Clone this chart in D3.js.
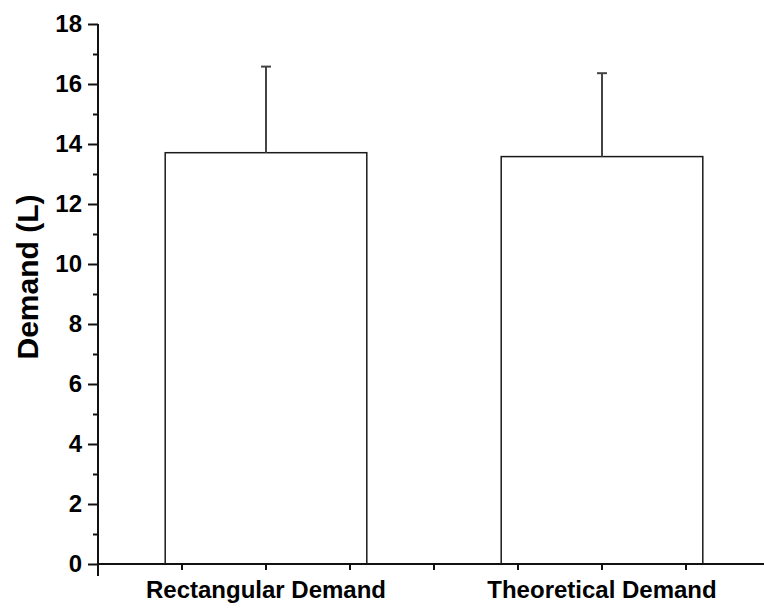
<!DOCTYPE html>
<html>
<head>
<meta charset="utf-8">
<script src="https://cdn.jsdelivr.net/npm/d3@7"></script>
<style>
  html, body { margin: 0; padding: 0; background: #fff; }
  svg { display: block; }
  text { font-family: "Liberation Sans", Arial, sans-serif; font-weight: bold; fill: #000; }
</style>
</head>
<body>
<svg id="chart" width="764" height="610"></svg>
<script>
// Mean demand per method, with the upper standard deviation
const categories = ["Rectangular Demand", "Theoretical Demand"];
const means = [13.71, 13.58];
const errors = [2.87, 2.78];
const yTicks = [0, 2, 4, 6, 8, 10, 12, 14, 16, 18];
const yMinorTicks = [1, 3, 5, 7, 9, 11, 13, 15, 17];
const yTitle = "Demand (L)";

const svg = d3.select("#chart");
const W = 764, H = 610;
const plotLeft = 98, plotRight = 770, plotTop = 24, plotBottom = 564;

const x = d3.scaleBand()
  .domain(categories)
  .range([plotLeft, plotRight])
  .paddingInner(0.4)
  .paddingOuter(0.2);

const y = d3.scaleLinear().domain([0, 18]).range([plotBottom, plotTop]);

// Bars
svg.append("g").selectAll("rect")
  .data(categories)
  .join("rect")
  .attr("x", d => x(d))
  .attr("y", (d, i) => y(means[i]))
  .attr("width", x.bandwidth())
  .attr("height", (d, i) => y(0) - y(means[i]))
  .attr("fill", "#fff")
  .attr("stroke", "#1a1a1a")
  .attr("stroke-width", 1.5);

// Upper error bars
const eb = svg.append("g").attr("stroke", "#444").attr("stroke-width", 2);
categories.forEach((c, i) => {
  const cx = x(c) + x.bandwidth() / 2;
  eb.append("line")
    .attr("x1", cx).attr("x2", cx)
    .attr("y1", y(means[i])).attr("y2", y(means[i] + errors[i]));
  eb.append("line")
    .attr("x1", cx - 5).attr("x2", cx + 5)
    .attr("y1", y(means[i] + errors[i])).attr("y2", y(means[i] + errors[i]));
});

// Y axis with major and minor ticks
const yAxis = svg.append("g")
  .attr("transform", `translate(${plotLeft},0)`)
  .call(d3.axisLeft(y).tickValues(yTicks).tickSize(10).tickPadding(6).tickFormat(d3.format("d")));
yAxis.select(".domain").remove();
yAxis.selectAll(".tick line").attr("stroke", "#111").attr("stroke-width", 2);
yAxis.selectAll(".tick text").attr("font-size", 24).attr("fill", "#000");

const yMinor = svg.append("g")
  .attr("transform", `translate(${plotLeft},0)`)
  .call(d3.axisLeft(y).tickValues(yMinorTicks).tickSize(5).tickFormat(""));
yMinor.select(".domain").remove();
yMinor.selectAll(".tick line").attr("stroke", "#111").attr("stroke-width", 2);

svg.append("line")
  .attr("x1", plotLeft).attr("x2", plotLeft)
  .attr("y1", plotTop).attr("y2", plotBottom + 12)
  .attr("stroke", "#111").attr("stroke-width", 2);

// X axis: line, quarter-step ticks, category labels
svg.append("line")
  .attr("x1", plotLeft).attr("x2", W)
  .attr("y1", plotBottom).attr("y2", plotBottom)
  .attr("stroke", "#111").attr("stroke-width", 2);

const step = x.step();
const xTickPos = d3.range(1, 2 * categories.length * 2).map(k => plotLeft + k * step / 4);
svg.append("g").selectAll("line")
  .data(xTickPos)
  .join("line")
  .attr("x1", d => d).attr("x2", d => d)
  .attr("y1", plotBottom).attr("y2", plotBottom + 6)
  .attr("stroke", "#111").attr("stroke-width", 2);

svg.append("g").selectAll("text")
  .data(categories)
  .join("text")
  .attr("x", d => x(d) + x.bandwidth() / 2)
  .attr("y", 598)
  .attr("text-anchor", "middle")
  .attr("font-size", 24)
  .text(d => d);

// Y title
svg.append("text")
  .attr("transform", `translate(38,277) rotate(-90)`)
  .attr("text-anchor", "middle")
  .attr("font-size", 30)
  .text(yTitle);
</script>
</body>
</html>
